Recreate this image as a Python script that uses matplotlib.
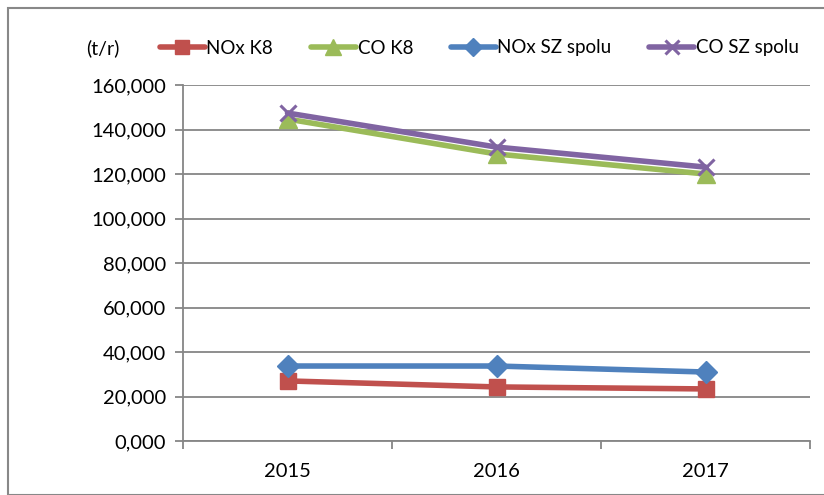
import matplotlib
matplotlib.use("Agg")
import matplotlib.pyplot as plt
from matplotlib.ticker import FuncFormatter, FixedLocator
from matplotlib.patches import Rectangle

years = ["2015", "2016", "2017"]
nox_k8 = [27000, 24300, 23400]
co_k8 = [144700, 129000, 120000]
nox_sz = [33700, 33700, 31000]
co_sz = [147400, 132100, 123100]
series_names = ["NOx K8", "CO K8", "NOx SZ spolu", "CO SZ spolu"]

plt.rcParams['font.family'] = ['Lato', 'DejaVu Sans']

fig = plt.figure(figsize=(8.24, 4.95), dpi=100)
W, H = 824, 495
ax = fig.add_axes([183 / W, 1 - 441 / H, (810 - 183) / W, (441 - 85) / H])

x = list(range(len(years)))
styles = [
    (nox_k8, "#C0504D", "s", 12, 1),
    (co_k8, "#9BBB59", "^", 13, 1),
    (nox_sz, "#4F81BD", "D", 11, 1),
    (co_sz, "#8064A2", "x", 12, 2.2),
]
handles = []
for (vals, col, m, ms, mew), name in zip(styles, series_names):
    h, = ax.plot(x, vals, color=col, lw=4, marker=m, ms=ms, mec=col, mfc=col,
                 mew=mew, label=name, solid_capstyle='round')
    handles.append(h)


def fmt(v, p):
    return f"{int(v) // 1000},000"


ax.set_xlim(-0.5, 2.5)
ax.set_ylim(0, 160000)
ax.set_yticks(range(0, 160001, 20000))
ax.yaxis.set_major_formatter(FuncFormatter(fmt))
ax.grid(axis='y', color='#868686', lw=1.3)
ax.set_axisbelow(True)
ax.set_xticks(x)
ax.set_xticklabels(years)
ax.xaxis.set_minor_locator(FixedLocator([-0.5, 0.5, 1.5, 2.5]))
ax.tick_params(axis='x', which='major', length=0, pad=16, labelsize=14.5)
ax.tick_params(axis='x', which='minor', length=6, color='#868686', width=1.3)
ax.tick_params(axis='y', length=6, color='#868686', width=1.3, labelsize=14.5, pad=6)
for s in ['top', 'right']:
    ax.spines[s].set_visible(False)
for s in ['left', 'bottom']:
    ax.spines[s].set_color('#868686')
    ax.spines[s].set_linewidth(1.3)

fig.text(86 / W, 1 - 48 / H, "(t/r)", fontsize=14, va='center', ha='left')
leg = fig.legend(handles=handles, loc='center left', bbox_to_anchor=(152 / W, 1 - 48 / H),
                 ncol=4, frameon=False, fontsize=13.5, handlelength=2.4,
                 columnspacing=2.0, handletextpad=0.1, borderaxespad=0,
                 markerscale=0.85)

fig.patches.append(Rectangle((8 / W, 0), 1.0, 1 - 8 / H, transform=fig.transFigure,
                             fill=False, edgecolor='#888888', lw=1.5))

fig.savefig("out.png", dpi=100)
